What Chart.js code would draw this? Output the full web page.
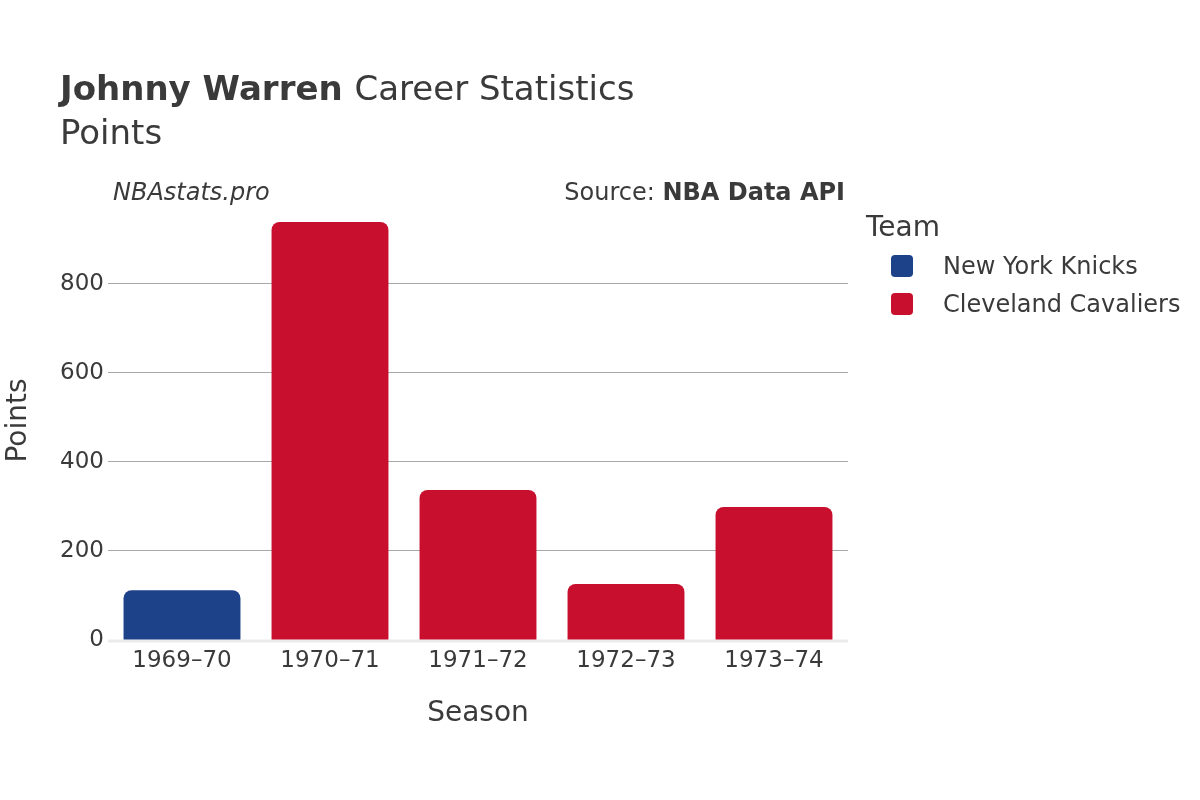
<!DOCTYPE html>
<html>
<head>
<meta charset="utf-8">
<script src="https://cdn.jsdelivr.net/npm/chart.js@4/dist/chart.umd.min.js"></script>
<style>
  html, body { margin: 0; padding: 0; background: #fff; }
  #wrap { width: 1200px; height: 800px; }
</style>
</head>
<body>
<div id="wrap"><canvas id="chart" width="1200" height="800"></canvas></div>
<script>
// data
const seasons = ["1969\u201370", "1970\u201371", "1971\u201372", "1972\u201373", "1973\u201374"];
const knicksPoints = [112, null, null, null, null];
const cavsPoints = [null, 939, 337, 126, 299];
const yTicks = [0, 200, 400, 600, 800];

const FONT = "'DejaVu Sans', sans-serif";
const TEXT = "#3a3a3a";

// draws titles, axis titles and the legend on the canvas
const textPlugin = {
    id: 'texts',
    afterDraw(chart) {
        const ctx = chart.ctx;
        const area = chart.chartArea;
        ctx.save();
        ctx.fillStyle = TEXT;
        ctx.textBaseline = 'middle';

        // main title
        ctx.textAlign = 'left';
        ctx.font = `bold 34px ${FONT}`;
        ctx.fillText("Johnny Warren", 60, 91);
        const w = ctx.measureText("Johnny Warren ").width;
        ctx.font = `34px ${FONT}`;
        ctx.fillText("Career Statistics", 60 + w, 91);
        ctx.fillText("Points", 60, 135);

        // credits
        ctx.font = `italic 24px ${FONT}`;
        ctx.fillText("NBAstats.pro", 113, 194);
        ctx.textAlign = 'right';
        ctx.font = `bold 24px ${FONT}`;
        ctx.fillText("NBA Data API", 845, 194);
        const bw = ctx.measureText("NBA Data API").width;
        ctx.font = `24px ${FONT}`;
        ctx.fillText("Source: ", 845 - bw, 194);

        // axis titles
        ctx.textAlign = 'center';
        ctx.font = `28px ${FONT}`;
        ctx.fillText("Season", (area.left + area.right) / 2, 714);
        ctx.save();
        ctx.translate(19, (area.top + area.bottom) / 2);
        ctx.rotate(-Math.PI / 2);
        ctx.fillText("Points", 0, 0);
        ctx.restore();

        // legend
        ctx.textAlign = 'left';
        ctx.font = `28px ${FONT}`;
        ctx.fillText("Team", 866, 229);
        ctx.font = `24px ${FONT}`;
        chart.data.datasets.forEach((ds, i) => {
            const y = 266 + i * 38;
            ctx.fillStyle = ds.backgroundColor;
            ctx.beginPath();
            ctx.roundRect(891, y - 11, 22, 22, 4);
            ctx.fill();
            ctx.fillStyle = TEXT;
            ctx.fillText(ds.label, 943, y + 2);
        });
        ctx.restore();
    }
};

// zero line drawn above the grid
const zeroLinePlugin = {
    id: 'zeroLine',
    beforeDatasetsDraw(chart) {
        const ctx = chart.ctx;
        const area = chart.chartArea;
        const y = chart.scales.y.getPixelForValue(0);
        ctx.save();
        ctx.strokeStyle = '#ebebeb';
        ctx.lineWidth = 3;
        ctx.beginPath();
        ctx.moveTo(area.left, y + 1);
        ctx.lineTo(area.right, y + 1);
        ctx.stroke();
        ctx.restore();
    }
};

new Chart(document.getElementById('chart'), {
    type: 'bar',
    data: {
        labels: seasons,
        datasets: [
            {
                label: "New York Knicks",
                data: knicksPoints,
                backgroundColor: "#1d428a",
                borderRadius: 8,
                borderSkipped: 'start',
                barPercentage: 0.79,
                categoryPercentage: 1
            },
            {
                label: "Cleveland Cavaliers",
                data: cavsPoints,
                backgroundColor: "#c8102e",
                borderRadius: 8,
                borderSkipped: 'start',
                barPercentage: 0.79,
                categoryPercentage: 1
            }
        ]
    },
    options: {
        responsive: false,
        animation: false,
        layout: { padding: { left: 0, right: 352, top: 201, bottom: 0 } },
        plugins: {
            legend: { display: false },
            title: { display: false },
            tooltip: { enabled: false }
        },
        scales: {
            x: {
                stacked: true,
                grid: { display: false, drawTicks: false },
                border: { display: false },
                ticks: {
                    color: TEXT,
                    font: { family: FONT, size: 23 },
                    padding: 7,
                    maxRotation: 0
                },
                afterFit: s => { s.height = 160; }
            },
            y: {
                stacked: true,
                min: 0,
                max: 986,
                grid: { color: '#a8a8a8', lineWidth: 1, drawTicks: false },
                border: { display: false },
                afterBuildTicks: s => { s.ticks = yTicks.map(v => ({ value: v })); },
                ticks: {
                    color: TEXT,
                    font: { family: FONT, size: 23 },
                    padding: 4
                },
                afterFit: s => { s.width = 108; }
            }
        }
    },
    plugins: [zeroLinePlugin, textPlugin]
});
</script>
</body>
</html>
